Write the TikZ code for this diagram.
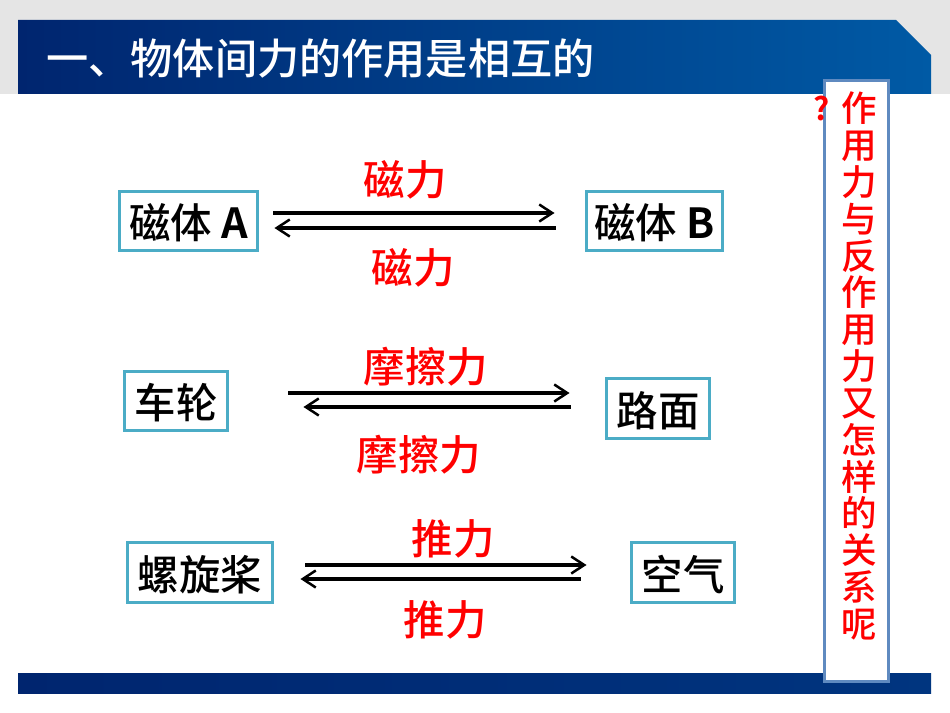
\documentclass[tikz,border=0pt]{standalone}
\usepackage{fontspec}
\setmainfont{Noto Sans CJK SC Medium}[BoldFont=Noto Sans CJK SC Bold]
\usetikzlibrary{arrows.meta}
\definecolor{navy}{HTML}{00256F}
\definecolor{midblue}{HTML}{005AA5}
\definecolor{boxteal}{HTML}{4BACC6}
\definecolor{sideblue}{HTML}{5F8AC0}
\tikzset{
  obj/.style = {draw=boxteal,line width=0.06cm,fill=white,inner sep=0pt,text height=23pt,text depth=2.6pt,font=\fontsize{23.6pt}{27pt}\selectfont},
  forcelabel/.style = {text=red,inner sep=0pt,font=\fontsize{23.6pt}{27pt}\selectfont},
  forceline/.style = {line width=0.07cm,-{Straight Barb[length=0.26cm,width=0.34cm,line width=0.05cm]}}
}
\begin{document}
\begin{tikzpicture}[x=0.02cm,y=-0.02cm]
  \useasboundingbox (0,0) rectangle (950,713);
  \fill[white] (0,0) rectangle (950,713);
  \fill[gray!20] (0,0) rectangle (950,94);
  \shade[left color=navy,right color=midblue] (18,20) -- (896,20) -- (931,55) -- (931,94) -- (18,94) -- cycle;
  \shade[left color=navy,right color=navy!70!midblue] (18,673) rectangle (931,693);

  \node[anchor=west,text=white,inner sep=0pt,font=\fontsize{24pt}{28pt}\selectfont] (title) at (46,59) {一、物体间力的作用是相互的};

  \node[obj,minimum width=2.78cm,minimum height=1.2cm] (magA) at (188.5,221) {磁体 \textbf{A}};
  \node[obj,minimum width=2.74cm,minimum height=1.2cm] (magB) at (654.5,221) {磁体 \textbf{B}};
  \node[obj,minimum width=2.08cm,minimum height=1.2cm] (wheel) at (176,401) {车轮};
  \node[obj,minimum width=2.08cm,minimum height=1.2cm] (road) at (658,408.5) {路面};
  \node[obj,minimum width=2.92cm,minimum height=1.2cm] (prop) at (200,572.5) {螺旋桨};
  \node[obj,minimum width=2.08cm,minimum height=1.2cm] (air) at (683,572.5) {空气};

  % forces, top one goes right and bottom one goes left
  \draw[forceline,shorten <=0.28cm,shorten >=0.6cm] (magA.east |- 0,213) -- (magB.west |- 0,213);
  \draw[forceline,shorten <=0.58cm,shorten >=0.3cm] (magB.west |- 0,228) -- (magA.east |- 0,228);
  \draw[forceline,shorten <=1.18cm,shorten >=0.7cm] (wheel.east |- 0,393) -- (road.west |- 0,393);
  \draw[forceline,shorten <=0.68cm,shorten >=1.48cm] (road.west |- 0,407) -- (wheel.east |- 0,407);
  \draw[forceline,shorten <=0.62cm,shorten >=0.86cm] (prop.east |- 0,565) -- (air.west |- 0,565);
  \draw[forceline,shorten <=0.98cm,shorten >=0.52cm] (air.west |- 0,579) -- (prop.east |- 0,579);

  \node[forcelabel] (magTop) at (405,180) {磁力};
  \node[forcelabel] (magBot) at (413,268) {磁力};
  \node[forcelabel] (fricTop) at (426,367) {摩擦力};
  \node[forcelabel] (fricBot) at (419,455) {摩擦力};
  \node[forcelabel] (pushTop) at (453,539) {推力};
  \node[forcelabel] (pushBot) at (445,620) {推力};

  \draw[sideblue,line width=0.06cm,fill=white] (824,81) rectangle (888,681);
  \node[text=red,inner sep=0pt,align=center,font=\fontsize{20.2pt}{20.95pt}\selectfont] (side) at (859,366)
    {作\\用\\力\\与\\反\\作\\用\\力\\又\\怎\\样\\的\\关\\系\\呢};
  \node[text=red,inner sep=0pt,font=\bfseries\fontsize{18pt}{20pt}\selectfont] (ask) at (822,108) {?};
\end{tikzpicture}
\end{document}
